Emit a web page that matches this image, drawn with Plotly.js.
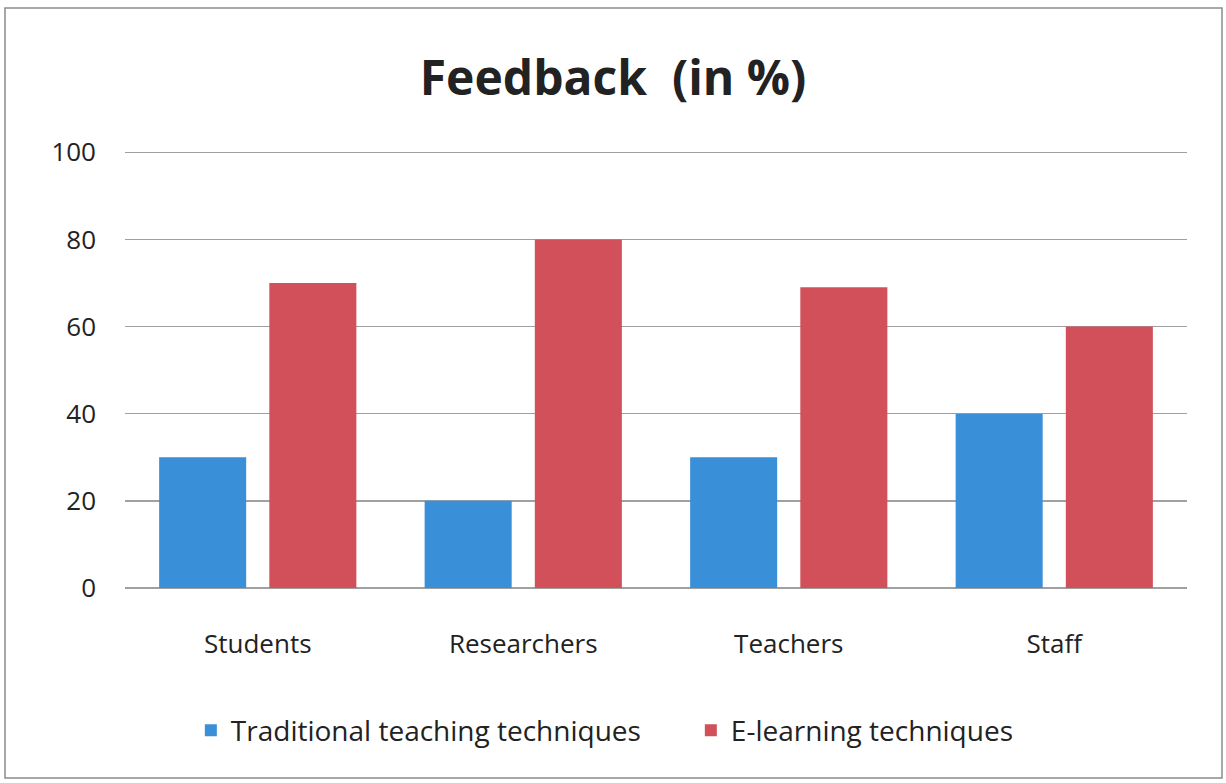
<!DOCTYPE html>
<html>
<head>
<meta charset="utf-8">
<script src="https://cdn.plot.ly/plotly-3.0.1.min.js"></script>
<style>
html,body{margin:0;padding:0;background:#fff;}
#chart{width:1226px;height:783px;}
</style>
</head>
<body>
<div id="chart"></div>
<script>
const categories = ["Students", "Researchers", "Teachers", "Staff"];
const seriesNames = ["Traditional teaching techniques", "E-learning techniques"];
const traditional = [30, 20, 30, 40];
const elearning = [70, 80, 69, 60];
const yTicks = [0, 20, 40, 60, 80, 100];

const font = "Open Sans, Noto Sans, DejaVu Sans, sans-serif";

const traces = [
  {type: "bar", name: seriesNames[0], x: categories, y: traditional,
   marker: {color: "#3a8fd9"}},
  {type: "bar", name: seriesNames[1], x: categories, y: elearning,
   marker: {color: "#d2505a"}}
];

const layout = {
  width: 1226, height: 783,
  paper_bgcolor: "#ffffff", plot_bgcolor: "#ffffff",
  margin: {l: 125, r: 39, t: 151, b: 195},
  barmode: "group", bargap: 0.17, bargroupgap: 0.21,
  title: {text: "<b>Feedback  (in %)</b>", x: 0.5, xanchor: "center", y: 0.9, yanchor: "middle",
          font: {family: font, size: 48, color: "#222"}},
  xaxis: {tickfont: {family: font, size: 26, color: "#222"}, ticklabelstandoff: 38,
          showgrid: false, showline: false, zeroline: false},
  yaxis: {range: [0, 100.3], tickvals: yTicks, tickfont: {family: font, size: 26, color: "#222"},
          ticklabelstandoff: 28, showgrid: true, gridcolor: "#a0a0a0", gridwidth: 1.5,
          zeroline: true, zerolinecolor: "#a0a0a0", zerolinewidth: 1.5, showline: false},
  legend: {orientation: "h", x: 0.062, xanchor: "left", y: -0.326, yanchor: "middle",
           font: {family: font, size: 28, color: "#222"}, itemwidth: 30,
           entrywidth: 455, entrywidthmode: "pixels",
           traceorder: "normal"},
  shapes: [{type: "rect", xref: "paper", yref: "paper",
            x0: -120/1062, x1: 1097/1062,
            y0: -190/437, y1: 1 + 143/437,
            line: {color: "#8c8c8c", width: 1.5}}]
};

Plotly.newPlot("chart", traces, layout, {displayModeBar: false, staticPlot: true});
</script>
</body>
</html>
